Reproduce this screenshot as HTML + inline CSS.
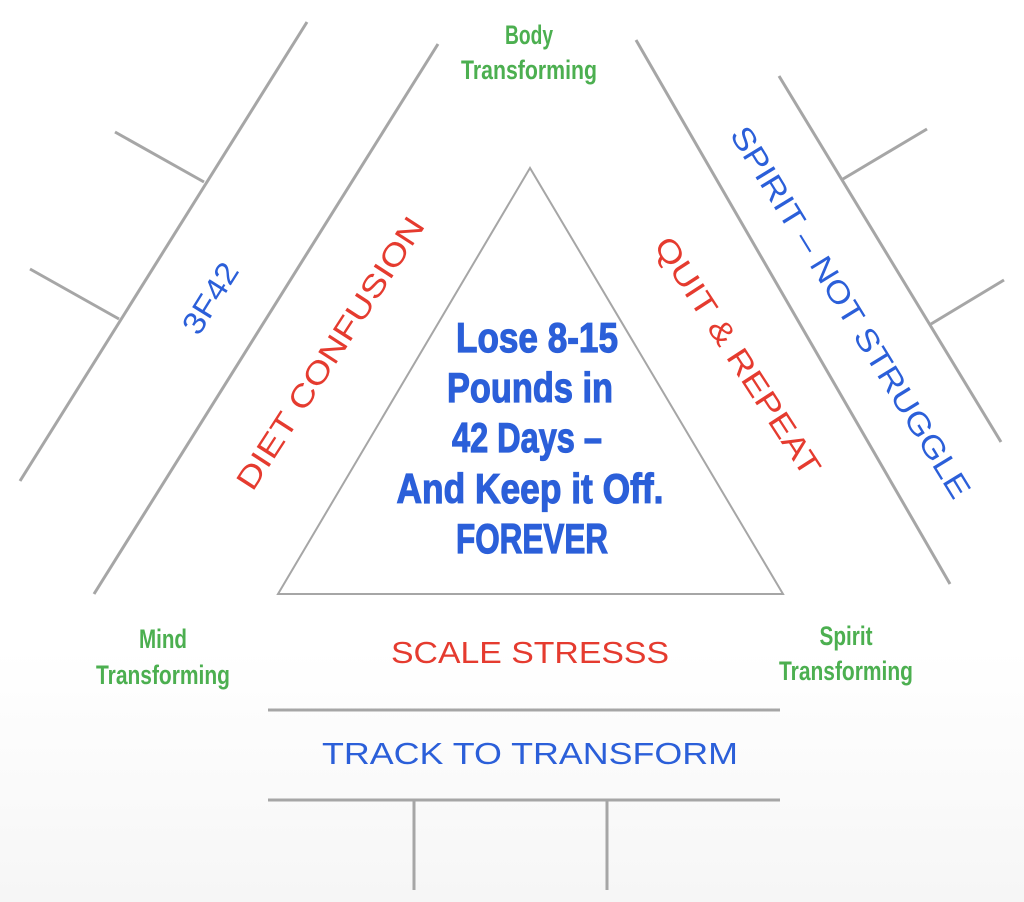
<!DOCTYPE html>
<html><head><meta charset="utf-8"><style>
html,body{margin:0;padding:0;background:#fff}
svg{display:block}
</style></head><body>
<svg width="1024" height="902" viewBox="0 0 1024 902" xmlns="http://www.w3.org/2000/svg">
<defs><linearGradient id="bg" x1="0" y1="0" x2="0" y2="1">
<stop offset="0.72" stop-color="#ffffff"/><stop offset="1" stop-color="#f6f6f6"/></linearGradient></defs>
<rect width="1024" height="902" fill="url(#bg)"/>
<g stroke="#a6a6a6" stroke-width="3" fill="none" stroke-linecap="butt">
<line x1="307" y1="22" x2="20" y2="481"/>
<line x1="115" y1="132" x2="204" y2="182"/>
<line x1="30" y1="269" x2="119" y2="319"/>
<line x1="438" y1="44" x2="94" y2="594"/>
<polygon points="530,168 278,594 783,594" stroke-width="2"/>
<line x1="636" y1="40" x2="950" y2="584"/>
<line x1="779" y1="76" x2="1001" y2="442"/>
<line x1="843" y1="179" x2="927" y2="129"/>
<line x1="931" y1="324" x2="1004" y2="280"/>
<line x1="268" y1="710" x2="780" y2="710"/>
<line x1="268" y1="800" x2="780" y2="800"/>
<line x1="414" y1="800" x2="414" y2="890"/>
<line x1="607" y1="800" x2="607" y2="890"/>
</g>
<g font-family="Liberation Sans Narrow, Liberation Sans, sans-serif" fill="#4caf50" font-size="27" font-weight="bold" text-anchor="middle">
<text x="529" y="44" textLength="48" lengthAdjust="spacingAndGlyphs">Body</text>
<text x="529" y="79" textLength="136" lengthAdjust="spacingAndGlyphs">Transforming</text>
<text x="163" y="648" textLength="48" lengthAdjust="spacingAndGlyphs">Mind</text>
<text x="163" y="684" textLength="134" lengthAdjust="spacingAndGlyphs">Transforming</text>
<text x="846" y="645" textLength="53" lengthAdjust="spacingAndGlyphs">Spirit</text>
<text x="846" y="680" textLength="134" lengthAdjust="spacingAndGlyphs">Transforming</text>
</g>
<g font-family="Liberation Sans, sans-serif" text-anchor="middle" font-size="31">
<text transform="translate(210,298) rotate(-58)" y="11" fill="#2b5fd9" textLength="78" lengthAdjust="spacingAndGlyphs">3F42</text>
<text transform="translate(330,353) rotate(-57)" y="11" fill="#e53b2f" textLength="318" lengthAdjust="spacingAndGlyphs">DIET CONFUSION</text>
<text transform="translate(738,356) rotate(57)" y="11" fill="#e53b2f" textLength="278" lengthAdjust="spacingAndGlyphs">QUIT &amp; REPEAT</text>
<text transform="translate(851,312) rotate(58.5)" y="11" fill="#2b5fd9" textLength="430" lengthAdjust="spacingAndGlyphs">SPIRIT – NOT STRUGGLE</text>
<text x="530" y="663" fill="#e53b2f" textLength="278" lengthAdjust="spacingAndGlyphs">SCALE STRESSS</text>
<text x="530" y="764" fill="#2b5fd9" textLength="416" lengthAdjust="spacingAndGlyphs">TRACK TO TRANSFORM</text>
</g>
<g font-family="Liberation Sans Narrow, Liberation Sans, sans-serif" font-weight="bold" fill="#2b5fd9" stroke="#2b5fd9" stroke-width="1.2" font-size="42" text-anchor="middle">
<text x="537" y="352" textLength="162" lengthAdjust="spacingAndGlyphs">Lose 8-15</text>
<text x="530" y="402" textLength="166" lengthAdjust="spacingAndGlyphs">Pounds in</text>
<text x="527" y="452" textLength="150" lengthAdjust="spacingAndGlyphs">42 Days –</text>
<text x="530" y="503" textLength="267" lengthAdjust="spacingAndGlyphs">And Keep it Off.</text>
<text x="532" y="553" textLength="152" lengthAdjust="spacingAndGlyphs">FOREVER</text>
</g>
</svg>
</body></html>
